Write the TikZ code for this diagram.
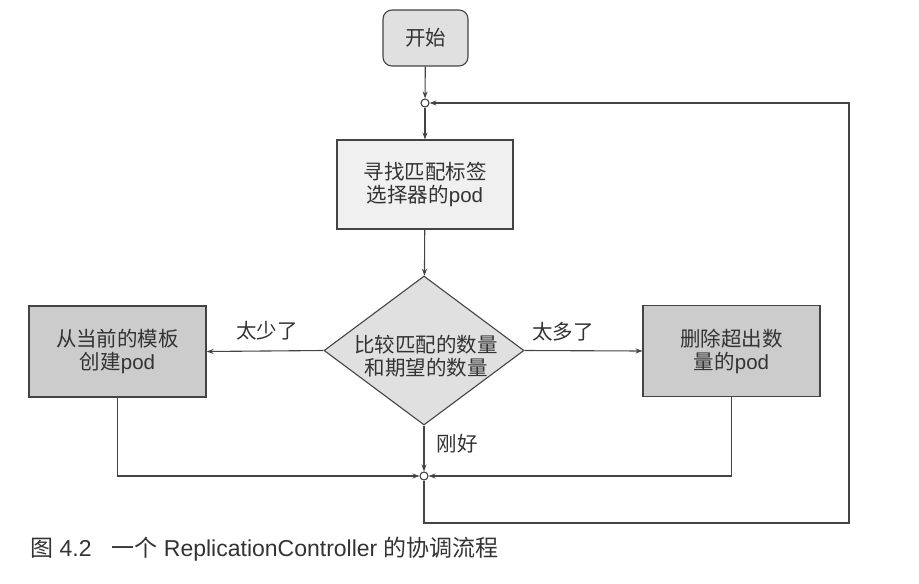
\documentclass[tikz,border=0pt]{standalone}
\usepackage{fontspec}
\setmainfont{Liberation Sans}
\newfontfamily\cjk{Noto Sans CJK SC}
\usetikzlibrary{shapes.geometric,arrows.meta}
\definecolor{linec}{HTML}{444444}
\definecolor{textc}{HTML}{333333}
\begin{document}
\begin{tikzpicture}[x=1pt,y=-1pt,
  every node/.style={text=textc,font=\fontsize{20.5}{23}\selectfont,align=center},
  conn/.style={draw=linec,line width=1.1pt},
  arr/.style={conn,-{Stealth[length=7pt,width=5pt]}},
  startbox/.style={draw=linec,line width=1.1pt,rounded corners=9pt,fill=black!12,minimum width=85pt,minimum height=56pt,inner sep=0pt},
  searchbox/.style={draw=linec,line width=1.1pt,fill=black!6,minimum width=176pt,minimum height=89pt,inner sep=0pt},
  actbox/.style={draw=linec,line width=1.1pt,fill=black!20,minimum width=177pt,minimum height=91pt,inner sep=0pt},
  decide/.style={diamond,draw=linec,line width=1.1pt,fill=black!12,minimum width=200pt,minimum height=149pt,inner sep=0pt},
  junction/.style={circle,draw=linec,line width=1.1pt,fill=white,minimum size=8pt,inner sep=0pt},
  lbl/.style={inner sep=0pt}
]
\useasboundingbox (0,0) rectangle (919,584);
\node[startbox] (start) at (425.5,38) {{\cjk 开始}};
\node[junction] (c1) at (425,103) {};
\node[searchbox] (search) at (425,184.5) {{\cjk 寻找匹配标签}\\{\cjk 选择器的}pod};
\node[decide] (dia) at (424,350.5) {};
\node[lbl] (diatext) at (426,356) {{\cjk 比较匹配的数量}\\{\cjk 和期望的数量}};
\node[actbox] (left) at (117.5,351.5) {{\cjk 从当前的模板}\\{\cjk 创建}pod};
\node[actbox] (right) at (731.5,351) {{\cjk 删除超出数}\\{\cjk 量的}pod};
\node[junction] (c2) at (424,476) {};
\coordinate (lb) at (424,523);
\coordinate (rb) at (849,523);
\coordinate (rt) at (849,103);
\node[lbl] (few) at (267,331) {{\cjk 太少了}};
\node[lbl] (many) at (563,332) {{\cjk 太多了}};
\node[lbl] (ok) at (457,444) {{\cjk 刚好}};
\node[lbl,anchor=west,font=\fontsize{23}{26}\selectfont] (cap) at (30,549) {{\cjk 图} 4.2\hspace{20pt}{\cjk 一个} ReplicationController {\cjk 的协调流程}};
\draw[arr] (start) -- (c1);
\draw[arr] (c1) -- (search);
\draw[arr] (search) -- (dia);
\draw[arr] (dia.west) -- (left.east);
\draw[arr] (dia.east) -- (right.west);
\draw[arr] (dia.south) -- (c2);
\draw[arr] (left.south) |- (c2.west);
\draw[arr] (right.south) |- (c2.east);
\draw[arr] (c2.south) -- (lb) -- (rb) -- (rt) -- (c1.east);
\end{tikzpicture}
\end{document}
